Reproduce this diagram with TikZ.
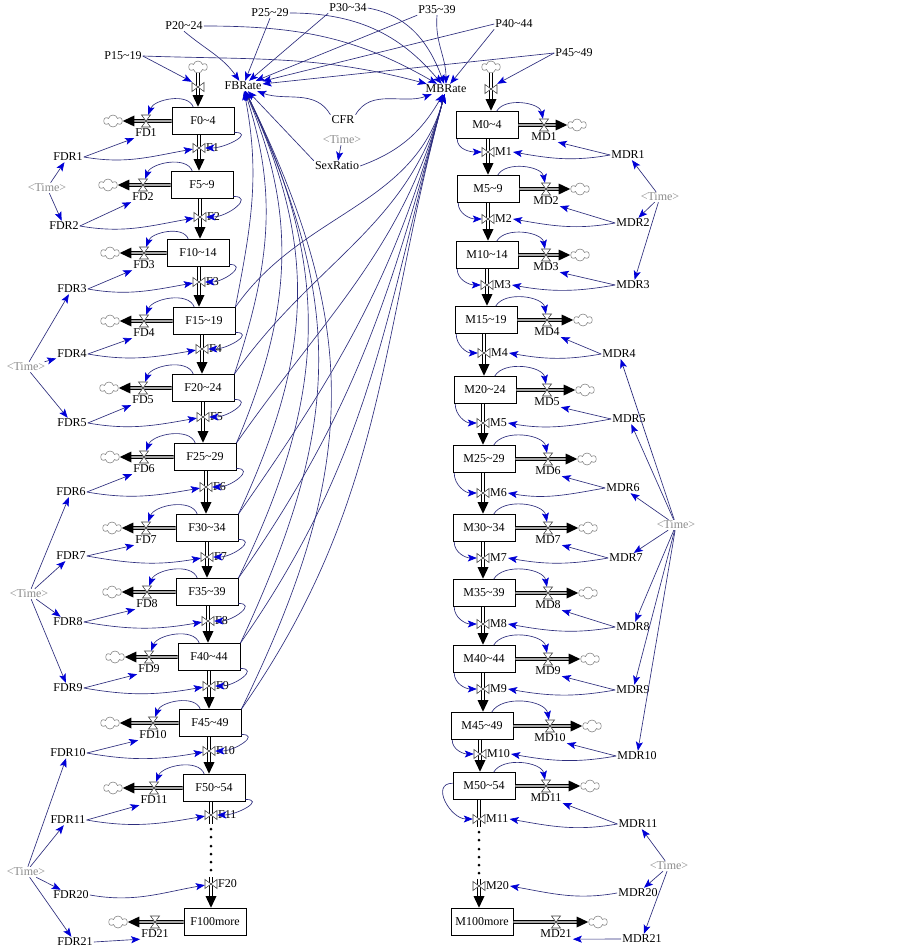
\documentclass[tikz,border=0pt]{standalone}
\usepackage{fontspec}
\setmainfont{Liberation Serif}
\usetikzlibrary{arrows.meta,shapes.symbols}
\definecolor{infol}{RGB}{45,45,125}
\definecolor{infoa}{RGB}{0,0,215}
\definecolor{timeg}{RGB}{140,140,140}
\newcommand\myt{\textasciitilde}
\newcommand\tmtxt{\textless Time\textgreater}
\newcommand\flowpipe[2]{\draw[pipeA] #1 -- #2; \draw[pipeB] #1 -- #2;}
\tikzset{
  lbl/.style={font=\fontsize{12}{14}\selectfont, inner sep=1pt},
  tlbl/.style={lbl, text=timeg},
  stock/.style={draw, line width=0.8pt, minimum width=62pt, minimum height=27pt, inner sep=0pt, font=\fontsize{12}{14}\selectfont, fill=white},
  info/.style={draw=infol, line width=0.65pt, -{Stealth[length=9pt,width=7pt,inset=2pt,color=infoa]}},
  pipeA/.style={line width=3.6pt, -{Triangle[length=12pt,width=10pt]}},
  pipeB/.style={line width=1.3pt, white, shorten >=12pt},
  pipeC/.style={line width=3.6pt},
  pipeD/.style={line width=1.3pt, white},
  cloudsh/.style={cloud, cloud puffs=6, cloud ignores aspect, draw=black!55, line width=0.5pt, minimum width=18pt, minimum height=12pt, inner sep=0pt},
  vv/.style={minimum width=12pt, minimum height=10pt, inner sep=0pt},
  hv/.style={minimum width=10pt, minimum height=12pt, inner sep=0pt},
  vvalve/.pic={\filldraw[fill=white,draw=black!75,line width=0.55pt] (-6,4.5)--(0,0)--(-6,-4.5)--cycle (6,4.5)--(0,0)--(6,-4.5)--cycle;},
  hvalve/.pic={\filldraw[fill=white,draw=black!75,line width=0.55pt] (-4.5,6)--(0,0)--(4.5,6)--cycle (-4.5,-6)--(0,0)--(4.5,-6)--cycle;},
}
\begin{document}
\begin{tikzpicture}[x=1pt,y=1pt]
\useasboundingbox (0,0) rectangle (902,-952);
\fill[white] (0,0) rectangle (902,-952);

% ---------- top variables
\node[lbl] (P15) at (123,-56) {P15\myt19};
\node[lbl] (P20) at (184,-26) {P20\myt24};
\node[lbl] (P25) at (270,-13) {P25\myt29};
\node[lbl] (P30) at (348,-8) {P30\myt34};
\node[lbl] (P35) at (437,-10) {P35\myt39};
\node[lbl] (P40) at (514,-24) {P40\myt44};
\node[lbl] (P45) at (574,-53) {P45\myt49};
\node[lbl] (FBRate) at (243,-86) {FBRate};
\node[lbl] (MBRate) at (446,-89) {MBRate};
\node[lbl] (CFR) at (343,-120) {CFR};
\node[tlbl] (Tc) at (342,-140) {\tmtxt};
\node[lbl] (SexRatio) at (337,-166) {SexRatio};

% ---------- female stocks and death flows
\foreach \nm/\tx/\cx/\cy/\vx/\cl/\dl in {
  F0/F0\myt4/203/121/146/113/FD1,
  F5/F5\myt9/202/185/143/108/FD2,
  F10/F10\myt14/198/253/144/110/FD3,
  F15/F15\myt19/204/321/144/110/FD4,
  F20/F20\myt24/203/388/143/109/FD5,
  F25/F25\myt29/205/457/144/110/FD6,
  F30/F30\myt34/207/528/146/112/FD7,
  F35/F35\myt39/207/592/147/112/FD8,
  F40/F40\myt44/209/657/149/115/FD9,
  F45/F45\myt49/210/723/153/110/FD10,
  F50/F50\myt54/214/788/154/113/FD11,
  F100/F100more/215/922/155/118/FD21}{
  \node[stock] (\nm) at (\cx,-\cy) {\tx};
  \node[cloudsh] (\nm c) at (\cl,-\cy) {};
  \node[hv] (\nm d) at (\vx,-\cy) {};
  \node[lbl] (\dl) at (\vx,-\cy-12) {\dl};
  \flowpipe{(\nm.west)}{(\nm c.east)}
  \pic at (\nm d) {hvalve};
}

% ---------- male stocks and death flows
\foreach \nm/\tx/\cx/\cy/\vx/\cl/\dl in {
  M0/M0\myt4/487/125/544/577/MD1,
  M5/M5\myt9/488/189/546/580/MD2,
  M10/M10\myt14/487/255/546/580/MD3,
  M15/M15\myt19/486/320/547/583/MD4,
  M20/M20\myt24/485/390/547/585/MD5,
  M25/M25\myt29/484/459/548/587/MD6,
  M30/M30\myt34/484/528/548/588/MD7,
  M35/M35\myt39/484/593/548/588/MD8,
  M40/M40\myt44/484/659/548/590/MD9,
  M45/M45\myt49/482/726/550/592/MD10,
  M50/M50\myt54/484/786/546/590/MD11,
  M100/M100more/482/922/556/598/MD21}{
  \node[stock] (\nm) at (\cx,-\cy) {\tx};
  \node[cloudsh] (\nm c) at (\cl,-\cy) {};
  \node[hv] (\nm d) at (\vx,-\cy) {};
  \node[lbl] (\dl) at (\vx,-\cy-12) {\dl};
  \flowpipe{(\nm.east)}{(\nm c.west)}
  \pic at (\nm d) {hvalve};
}

% ---------- inflows (births)
\node[cloudsh] (F0in) at (198,-67) {};
\node[vv] (F0iv) at (198,-87) {};
\flowpipe{(F0iv |- F0in.south)}{(F0iv |- F0.north)}
\pic at (F0iv) {vvalve};
\node[cloudsh] (M0in) at (491,-67) {};
\node[vv] (M0iv) at (491,-89) {};
\flowpipe{(M0iv |- M0in.south)}{(M0iv |- M0.north)}
\pic at (M0iv) {vvalve};

% ---------- ageing flows, female
\foreach \vn/\vl/\vx/\vy/\up/\dn in {
  F1v/F1/199/148/F0/F5, F2v/F2/200/217/F5/F10, F3v/F3/199/282/F10/F15,
  F4v/F4/202/349/F15/F20, F5v/F5/203/417/F20/F25, F6v/F6/206/487/F25/F30,
  F7v/F7/207/557/F30/F35, F8v/F8/208/621/F35/F40, F9v/F9/209/686/F40/F45,
  F10v/F10/209/751/F45/F50}{
  \node[vv] (\vn) at (\vx,-\vy) {};
  \flowpipe{(\vn |- \up.south)}{(\vn |- \dn.north)}
  \pic at (\vn) {vvalve};
  \node[lbl,anchor=west] (\vl L) at (\vx+6,-\vy) {\vl};
}
\node[vv] (F11v) at (211,-815) {};
\draw[pipeC] (F11v |- F50.south) -- (211,-824);
\draw[pipeD] (F11v |- F50.south) -- (211,-824);
\pic at (F11v) {vvalve};
\node[lbl,anchor=west] (F11L) at (217,-815) {F11};
\foreach \yy in {829,837,846,854,862,870} \fill (211,-\yy) circle (1.5);
\node[vv] (F20v) at (211,-884) {};
\flowpipe{(211,-877)}{(F20v |- F100.north)}
\pic at (F20v) {vvalve};
\node[lbl,anchor=west] (F20L) at (217,-884) {F20};

% ---------- ageing flows, male
\foreach \vn/\vl/\vx/\vy/\up/\dn in {
  M1v/M1/488/152/M0/M5, M2v/M2/488/219/M5/M10, M3v/M3/487/285/M10/M15,
  M4v/M4/484/353/M15/M20, M5v/M5/483/423/M20/M25, M6v/M6/483/493/M25/M30,
  M7v/M7/483/558/M30/M35, M8v/M8/483/624/M35/M40, M9v/M9/483/689/M40/M45,
  M10v/M10/480/754/M45/M50}{
  \node[vv] (\vn) at (\vx,-\vy) {};
  \flowpipe{(\vn |- \up.south)}{(\vn |- \dn.north)}
  \pic at (\vn) {vvalve};
  \node[lbl,anchor=west] (\vl L) at (\vx+6,-\vy) {\vl};
}
\node[vv] (M11v) at (479,-819) {};
\draw[pipeC] (M11v |- M50.south) -- (479,-827);
\draw[pipeD] (M11v |- M50.south) -- (479,-827);
\pic at (M11v) {vvalve};
\node[lbl,anchor=west] (M11L) at (485,-819) {M11};
\foreach \yy in {832,840,849,857,865,873} \fill (479,-\yy) circle (1.5);
\node[vv] (M20v) at (479,-886) {};
\flowpipe{(479,-879)}{(M20v |- M100.north)}
\pic at (M20v) {vvalve};
\node[lbl,anchor=west] (M20L) at (485,-886) {M20};

% ---------- death-rate variables
\foreach \nm/\x/\y in {FDR1/68/157, FDR2/64/226, FDR3/72/289, FDR4/72/354,
  FDR5/72/423, FDR6/71/492, FDR7/71/556, FDR8/68/622, FDR9/68/688,
  FDR10/68/753, FDR11/68/820, FDR20/71/895, FDR21/75/942,
  MDR1/628/155, MDR2/633/223, MDR3/633/285, MDR4/619/354, MDR5/629/419,
  MDR6/623/488, MDR7/626/558, MDR8/633/627, MDR9/633/690, MDR10/637/756,
  MDR11/638/824, MDR20/638/893, MDR21/642/939}
  \node[lbl] (\nm) at (\x,-\y) {\nm};

\foreach \nm/\x/\y in {T1/47/188, T2/26/367, T3/29/594, T4/26/872,
  TR1/660/197, TR2/676/525, TR3/669/866}
  \node[tlbl] (\nm) at (\x,-\y) {\tmtxt};

% ---------- info links: Time -> death rates
\foreach \a/\b in {T1/FDR1, T1/FDR2, T2/FDR3, T2/FDR4, T2/FDR5,
  T3/FDR6, T3/FDR7, T3/FDR8, T3/FDR9, T4/FDR10, T4/FDR11, T4/FDR20, T4/FDR21,
  TR1/MDR1, TR1/MDR2, TR1/MDR3, TR2/MDR4, TR2/MDR5, TR2/MDR6, TR2/MDR7,
  TR2/MDR8, TR2/MDR9, TR2/MDR10, TR3/MDR11, TR3/MDR20, TR3/MDR21}
  \draw[info] (\a) -- (\b);

% ---------- death rates -> flows
\foreach \a/\b in {FDR1/FD1, FDR2/FD2, FDR3/FD3, FDR4/FD4, FDR5/FD5, FDR6/FD6,
  FDR7/FD7, FDR8/FD8, FDR9/FD9, FDR10/FD10, FDR11/FD11, FDR21/FD21}
  \draw[info] (\a.east) -- (\b.south west);
\foreach \a/\b in {FDR1/F1v, FDR2/F2v, FDR3/F3v, FDR4/F4v, FDR5/F5v, FDR6/F6v,
  FDR7/F7v, FDR8/F8v, FDR9/F9v, FDR10/F10v, FDR11/F11v, FDR20/F20v}
  \draw[info] (\a.east) to[out=-10,in=190] (\b);
\foreach \a/\b in {MDR1/MD1, MDR2/MD2, MDR3/MD3, MDR4/MD4, MDR5/MD5, MDR6/MD6,
  MDR7/MD7, MDR8/MD8, MDR9/MD9, MDR10/MD10, MDR11/MD11, MDR21/MD21}
  \draw[info] (\a.west) -- (\b.south east);
\foreach \a/\b in {MDR1/M1L, MDR2/M2L, MDR3/M3L, MDR4/M4L, MDR5/M5L, MDR6/M6L,
  MDR7/M7L, MDR8/M8L, MDR9/M9L, MDR10/M10L, MDR11/M11L, MDR20/M20L}
  \draw[info] (\a.west) to[out=190,in=-10] (\b.east);

% ---------- stocks -> their outflows
\foreach \nm in {F0,F5,F10,F15,F20,F25,F30,F35,F40,F45,F50}
  \draw[info] (\nm.125) to[out=110,in=70,looseness=0.9] (\nm d);
\foreach \nm/\vn in {F0/F1v, F5/F2v, F10/F3v, F15/F4v, F20/F5v, F25/F6v,
  F30/F7v, F35/F8v, F40/F9v, F45/F10v, F50/F11v}
  \draw[info] (\nm.-20) to[out=0,in=0,looseness=1.6] (\vn);
\foreach \nm in {M0,M5,M10,M15,M20,M25,M30,M35,M40,M45,M50}
  \draw[info] (\nm.55) to[out=60,in=100,looseness=0.9] (\nm d);
\foreach \nm/\vn in {M0/M1v, M5/M2v, M10/M3v, M15/M4v, M20/M5v, M25/M6v,
  M30/M7v, M35/M8v, M40/M9v, M45/M10v}
  \draw[info] (\nm.-155) to[out=-90,in=180] (\vn);
\draw[info] (M50.175) to[out=180,in=180,looseness=1.4] (M11v);

% ---------- fertility inputs
\draw[info] (P15.east) -- (F0iv.north west);
\draw[info] (P15.east) to[out=-2,in=165] (MBRate);
\draw[info] (P20.south) to[out=-40,in=125] (FBRate);
\draw[info] (P20.east) to[out=0,in=150] (MBRate);
\draw[info] (P25.south) -- (FBRate);
\draw[info] (P25.east) to[out=0,in=130] (MBRate);
\draw[info] (P30.south west) -- (FBRate);
\draw[info] (P30.east) to[out=-10,in=110] (MBRate);
\draw[info] (P35.south west) -- (FBRate);
\draw[info] (P35.south) to[out=-95,in=90] (MBRate);
\draw[info] (P40.west) -- (FBRate);
\draw[info] (P40.south west) -- (MBRate);
\draw[info] (P45.west) -- (FBRate);
\draw[info] (P45.west) -- (M0iv.north east);
\draw[info] (CFR.north west) to[out=120,in=-20] (FBRate);
\draw[info] (CFR.north east) to[out=60,in=200] (MBRate);
\draw[info] (Tc) -- (SexRatio);
\draw[info] (SexRatio.north west) -- (FBRate);
\draw[info] (SexRatio.east) to[out=20,in=-120] (MBRate);
\foreach \nm/\oa/\lo in {F15/79/1, F20/72/1, F25/67/1, F30/65/1.05,
  F35/64/1.05, F40/65/1.1, F45/64/1.1}{
  \draw[info] (\nm.north east) to[out=\oa,in=-\oa,looseness=\lo] (FBRate);
  \draw[info] (\nm.north east) to[out=55,in=-105] (MBRate);
}
\end{tikzpicture}
\end{document}
